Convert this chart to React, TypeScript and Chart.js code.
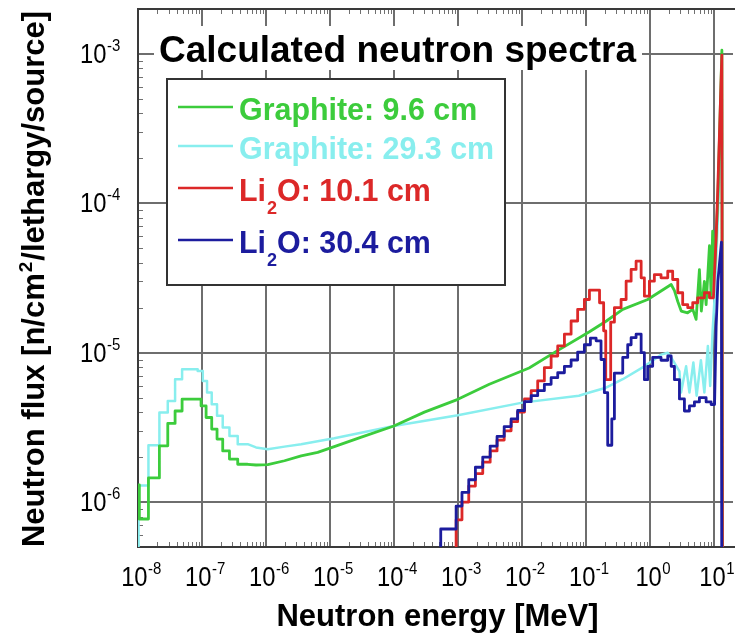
import React, { useEffect, useRef } from "react";
import { Chart, registerables } from "chart.js";

Chart.register(...registerables);

// Energies in MeV, flux in n/cm2/lethargy/source.
// "Bin" arrays are histogram groups (edges has one more entry than flux);
// "Curve" arrays continue the same series as a connected line.

// Graphite, 9.6 cm
const graphite96BinEdges = [8e-9, 1.05e-8, 1.456e-8, 2.16e-8, 2.92e-8, 3.8e-8, 4.89e-8, 9.68e-8, 1.16e-7, 1.42e-7, 1.72e-7, 2.11e-7, 2.69e-7, 3.62e-7, 5.19e-7];
const graphite96BinFlux = [1.3e-6, 7.7e-7, 1.45e-6, 2.38e-6, 3.36e-6, 4.07e-6, 4.88e-6, 4.4e-6, 3.68e-6, 3.08e-6, 2.64e-6, 2.2e-6, 1.94e-6, 1.79e-6];
const graphite96CurveE = [7e-7, 1.07e-6, 1.95e-6, 3.55e-6, 6.44e-6, 1.17e-5, 3.1e-5, 1e-4, 3e-4, 1e-3, 3.1e-3, 1.3e-2, 3.2e-2, 0.114, 0.21, 0.378, 0.929, 1.8, 2.16, 2.43, 2.74, 3.1, 3.9, 4.7, 5.3, 5.97, 6.4, 7.14, 7.6, 8.57, 9.1, 9.6, 10.3, 10.9, 11.6, 13.4, 13.9];
const graphite96CurveF = [1.77e-6, 1.78e-6, 1.89e-6, 2.04e-6, 2.15e-6, 2.35e-6, 2.72e-6, 3.23e-6, 4.0e-6, 4.87e-6, 6.15e-6, 7.9e-6, 1.0e-5, 1.38e-5, 1.63e-5, 1.95e-5, 2.27e-5, 2.72e-5, 2.86e-5, 2.6e-5, 2.2e-5, 1.9e-5, 1.85e-5, 1.95e-5, 1.67e-5, 3.6e-5, 1.9e-5, 3.0e-5, 2.1e-5, 5.2e-5, 2.4e-5, 6.5e-5, 3.5e-5, 6e-5, 1.1e-4, 1.06e-3, 1e-9];

// Graphite, 29.3 cm
const graphite293BinEdges = [5e-9, 1.02e-8, 1.456e-8, 2.16e-8, 2.92e-8, 3.8e-8, 4.89e-8, 8.57e-8, 1.03e-7, 1.2e-7, 1.42e-7, 1.72e-7, 2.11e-7, 2.69e-7, 3.62e-7, 5.19e-7];
const graphite293BinFlux = [1e-9, 1.29e-6, 2.4e-6, 3.97e-6, 4.75e-6, 6.64e-6, 7.74e-6, 7.55e-6, 6.47e-6, 5.41e-6, 4.52e-6, 3.78e-6, 3.16e-6, 2.77e-6, 2.44e-6];
const graphite293CurveE = [7e-7, 1.07e-6, 1.95e-6, 3.55e-6, 6.44e-6, 1.17e-5, 1e-4, 1e-3, 1.02e-2, 7.8e-2, 0.114, 0.2, 0.378, 0.824, 1.5, 1.91, 2.16, 2.91, 3.08, 3.7, 4.17, 4.8, 5.4, 6.3, 7.14, 8.1, 8.8, 9.6, 10.3, 10.9, 11.6, 13.4, 13.9];
const graphite293CurveF = [2.32e-6, 2.26e-6, 2.35e-6, 2.44e-6, 2.55e-6, 2.67e-6, 3.23e-6, 3.81e-6, 4.63e-6, 5.15e-6, 5.41e-6, 5.8e-6, 6.64e-6, 8.1e-6, 9.7e-6, 1.0e-5, 9.3e-6, 7.5e-6, 5.41e-6, 8.1e-6, 5.41e-6, 8.6e-6, 5.15e-6, 8.9e-6, 5.41e-6, 1.11e-5, 5.98e-6, 1.4e-5, 2.3e-5, 4e-5, 8e-5, 5e-4, 1e-9];

// Li2O, 10.1 cm
const li2o101BinEdges = [5e-4, 9.4e-4, 1.16e-3, 1.48e-3, 1.88e-3, 2.45e-3, 3.2e-3, 4.1e-3, 5.3e-3, 6.8e-3, 8.6e-3, 1.1e-2, 1.4e-2, 1.77e-2, 2.25e-2, 2.87e-2, 3.64e-2, 4.63e-2, 5.89e-2, 7.46e-2, 9.5e-2, 0.114, 0.164, 0.19, 0.205, 0.245, 0.28, 0.356, 0.427, 0.511, 0.611, 0.733, 0.824, 0.986, 1.18, 1.5, 1.91, 2.28, 2.74, 3.27, 3.92, 4.69, 5.61, 7.14, 8.57, 9.89];
const li2o101BinFlux = [1e-9, 7.6e-7, 1.0e-6, 1.28e-6, 1.55e-6, 1.85e-6, 2.2e-6, 2.6e-6, 3.0e-6, 3.45e-6, 4.0e-6, 4.9e-6, 5.57e-6, 6.47e-6, 7.94e-6, 9.5e-6, 1.11e-5, 1.33e-5, 1.63e-5, 1.95e-5, 2.27e-5, 2.62e-5, 2.16e-5, 1.4e-5, 6.6e-6, 1.6e-5, 2.0e-5, 2.27e-5, 3.01e-5, 3.61e-5, 4.1e-5, 3.17e-5, 2.39e-5, 3.01e-5, 3.33e-5, 3.17e-5, 3.51e-5, 3.09e-5, 2.52e-5, 2.1e-5, 2.0e-5, 2.16e-5, 2.33e-5, 2.52e-5, 2.33e-5];
const li2o101CurveE = [10.9, 11.6, 13.4, 13.9];
const li2o101CurveF = [6e-5, 1.3e-4, 9.8e-4, 1e-9];

// Li2O, 30.4 cm
const li2o304BinEdges = [3e-4, 5.4e-4, 9.4e-4, 1.16e-3, 1.48e-3, 1.88e-3, 2.45e-3, 3.2e-3, 4.1e-3, 5.3e-3, 6.8e-3, 8.6e-3, 1.1e-2, 1.4e-2, 1.77e-2, 2.25e-2, 2.87e-2, 3.64e-2, 4.63e-2, 5.89e-2, 7.46e-2, 9.5e-2, 0.118, 0.145, 0.173, 0.195, 0.22, 0.255, 0.28, 0.378, 0.452, 0.511, 0.611, 0.733, 0.824, 0.929, 1.11, 1.5, 1.91, 2.16, 2.43, 2.91, 3.48, 4.17, 4.99, 5.97, 7.6, 9.1, 10.3];
const li2o304BinFlux = [1e-9, 6.6e-7, 9.4e-7, 1.16e-6, 1.41e-6, 1.71e-6, 2.0e-6, 2.37e-6, 2.75e-6, 3.2e-6, 3.6e-6, 4.1e-6, 4.7e-6, 5.15e-6, 5.57e-6, 6.14e-6, 6.8e-6, 7.34e-6, 8.1e-6, 8.93e-6, 1.01e-5, 1.13e-5, 1.25e-5, 1.2e-5, 9.0e-6, 5.4e-6, 2.4e-6, 3.6e-6, 7.3e-6, 9.3e-6, 1.13e-5, 1.26e-5, 1.33e-5, 1.0e-5, 6.6e-6, 8.1e-6, 9.3e-6, 8.9e-6, 9.5e-6, 8.1e-6, 6.6e-6, 4.9e-6, 4.07e-6, 4.4e-6, 4.68e-6, 5.0e-6, 4.68e-6, 4.5e-6];
const li2o304CurveE = [10.9, 11.6, 13.2, 13.5];
const li2o304CurveF = [1.5e-5, 3e-5, 5.5e-5, 1e-9];

// Axis ranges and decade labels
const X_MIN = 1e-8;
const X_MAX = 20;
const Y_MIN = 5e-7;
const Y_MAX = 2e-3;
const X_TICK_EXPONENTS = [-8, -7, -6, -5, -4, -3, -2, -1, 0, 1];
const Y_TICK_EXPONENTS = [-6, -5, -4, -3];

const CHART_TITLE = "Calculated neutron spectra";
const X_TITLE = "Neutron energy [MeV]";
const Y_TITLE_PARTS = ["Neutron flux [n/cm", "2", "/lethargy/source]"];

type Seg = { text: string; sub?: boolean };
const LEGEND_LABELS: Seg[][] = [
  [{ text: "Graphite: 9.6 cm" }],
  [{ text: "Graphite: 29.3 cm" }],
  [{ text: "Li" }, { text: "2", sub: true }, { text: "O: 10.1 cm" }],
  [{ text: "Li" }, { text: "2", sub: true }, { text: "O: 30.4 cm" }],
];

const GREEN = "#3ccc3c";
const CYAN = "#88eeee";
const RED = "#dc2828";
const BLUE = "#1c1c9e";
const LEGEND_COLORS = [GREEN, CYAN, RED, BLUE];

const GRID = "#6e6e6e";
const BORDER = "#3a3a3a";
const INK = "#000000";
const FONT = '"Liberation Sans", Arial, Helvetica, sans-serif';

function histogramPoints(edges: number[], flux: number[], curveE: number[], curveF: number[]) {
  const pts: { x: number; y: number }[] = [];
  for (let i = 0; i < flux.length; i++) {
    pts.push({ x: edges[i], y: flux[i] });
    pts.push({ x: edges[i + 1], y: flux[i] });
  }
  for (let j = 0; j < curveE.length; j++) pts.push({ x: curveE[j], y: curveF[j] });
  return pts;
}

function textWidth(ctx: CanvasRenderingContext2D, text: string, font: string, sx = 1) {
  ctx.save();
  ctx.font = font;
  const w = ctx.measureText(text).width * sx;
  ctx.restore();
  return w;
}

function drawText(ctx: CanvasRenderingContext2D, text: string, x: number, y: number, font: string, color: string, sx = 1) {
  ctx.save();
  ctx.font = font;
  ctx.fillStyle = color;
  ctx.textBaseline = "alphabetic";
  ctx.textAlign = "left";
  ctx.translate(x, y);
  ctx.scale(sx, 1);
  ctx.fillText(text, 0, 0);
  const w = ctx.measureText(text).width * sx;
  ctx.restore();
  return w;
}

const decorations = {
  id: "decorations",
  beforeDatasetsDraw(chart: any) {
    const { ctx, chartArea: a, scales } = chart;
    const xs = scales.x;
    const ys = scales.y;
    const seg = (x1: number, y1: number, x2: number, y2: number) => {
      ctx.beginPath();
      ctx.moveTo(x1, y1);
      ctx.lineTo(x2, y2);
      ctx.stroke();
    };
    ctx.save();
    // decade grid
    ctx.strokeStyle = GRID;
    ctx.lineWidth = 2;
    for (const k of X_TICK_EXPONENTS) {
      const px = Math.round(xs.getPixelForValue(Math.pow(10, k)));
      if (px <= a.left + 2) continue;
      seg(px, a.top, px, a.bottom);
    }
    for (const k of Y_TICK_EXPONENTS) {
      const py = Math.round(ys.getPixelForValue(Math.pow(10, k)));
      seg(a.left, py, a.right, py);
    }
    // minor ticks
    ctx.strokeStyle = "#707070";
    ctx.lineWidth = 1;
    for (let k = -8; k <= 1; k++) {
      for (let m = 2; m <= 9; m++) {
        const v = m * Math.pow(10, k);
        if (v >= X_MAX) break;
        const px = Math.round(xs.getPixelForValue(v)) + 0.5;
        seg(px, a.bottom, px, a.bottom - 5);
        seg(px, a.top, px, a.top + 5);
      }
    }
    for (let k = -7; k <= -3; k++) {
      for (let m = 2; m <= 9; m++) {
        const v = m * Math.pow(10, k);
        if (v <= Y_MIN || v >= Y_MAX) continue;
        const py = Math.round(ys.getPixelForValue(v)) + 0.5;
        seg(a.left, py, a.left + 5, py);
      }
    }
    // frame
    ctx.strokeStyle = BORDER;
    ctx.lineWidth = 2;
    ctx.beginPath();
    ctx.moveTo(a.right + 2, a.top);
    ctx.lineTo(a.left, a.top);
    ctx.lineTo(a.left, a.bottom);
    ctx.lineTo(a.right + 2, a.bottom);
    ctx.stroke();
    ctx.restore();
  },
  afterDatasetsDraw(chart: any) {
    const { ctx, scales } = chart;
    const xs = scales.x;
    const ys = scales.y;
    ctx.save();

    // chart title on a white panel
    ctx.fillStyle = "#ffffff";
    ctx.fillRect(154, 26, 488, 44);
    drawText(ctx, CHART_TITLE, 159, 62, `bold 37px ${FONT}`, INK);

    // legend box
    ctx.fillStyle = "#ffffff";
    ctx.fillRect(167, 79, 338, 206);
    ctx.strokeStyle = "#333333";
    ctx.lineWidth = 2;
    ctx.strokeRect(167, 79, 338, 206);
    const rowY = [107, 146, 188, 240];
    LEGEND_LABELS.forEach((segs, i) => {
      const y = rowY[i];
      ctx.strokeStyle = LEGEND_COLORS[i];
      ctx.lineWidth = 2.5;
      ctx.beginPath();
      ctx.moveTo(178, y);
      ctx.lineTo(233, y);
      ctx.stroke();
      let x = 239;
      const base = y + 13;
      for (const s of segs) {
        if (s.sub) x += drawText(ctx, s.text, x + 1, base + 13, `bold 19px ${FONT}`, LEGEND_COLORS[i], 0.95) + 1;
        else x += drawText(ctx, s.text, x, base, `bold 32px ${FONT}`, LEGEND_COLORS[i], 0.95);
      }
    });

    // x tick labels: 10 with raised exponent
    const baseFont = `27px ${FONT}`;
    const expFont = `17px ${FONT}`;
    const sx = 0.88;
    for (const k of X_TICK_EXPONENTS) {
      const px = xs.getPixelForValue(Math.pow(10, k));
      const wb = textWidth(ctx, "10", baseFont, sx);
      const we = textWidth(ctx, String(k), expFont, sx);
      const left = px + 3 - (wb + we) / 2;
      drawText(ctx, "10", left, 586, baseFont, INK, sx);
      drawText(ctx, String(k), left + wb + 0.5, 574, expFont, INK, sx);
    }
    // y tick labels
    for (const k of Y_TICK_EXPONENTS) {
      const py = ys.getPixelForValue(Math.pow(10, k));
      const wb = drawText(ctx, "10", 80, py + 9, baseFont, INK, sx);
      drawText(ctx, String(k), 80 + wb + 0.5, py - 3, expFont, INK, sx);
    }

    // axis titles
    const titleFont = `bold 31px ${FONT}`;
    const supFont = `bold 19px ${FONT}`;
    const xw = textWidth(ctx, X_TITLE, titleFont);
    const a = chart.chartArea;
    drawText(ctx, X_TITLE, (a.left + a.right) / 2 + 2 - xw / 2, 626, titleFont, INK);

    ctx.save();
    ctx.translate(44, (a.top + a.bottom) / 2 + 1);
    ctx.rotate(-Math.PI / 2);
    const w0 = textWidth(ctx, Y_TITLE_PARTS[0], titleFont);
    const w1 = textWidth(ctx, Y_TITLE_PARTS[1], supFont);
    const w2 = textWidth(ctx, Y_TITLE_PARTS[2], titleFont);
    let tx = -(w0 + w1 + w2 + 2) / 2;
    tx += drawText(ctx, Y_TITLE_PARTS[0], tx, 0, titleFont, INK);
    tx += drawText(ctx, Y_TITLE_PARTS[1], tx + 1, -12, supFont, INK) + 2;
    drawText(ctx, Y_TITLE_PARTS[2], tx, 0, titleFont, INK);
    ctx.restore();

    ctx.restore();
  },
};

export default function App() {
  const ref = useRef<HTMLCanvasElement>(null);

  useEffect(() => {
    const canvas = ref.current;
    if (!canvas) return;
    const line = (label: string, color: string, width: number, data: { x: number; y: number }[]) => ({
      label,
      data,
      borderColor: color,
      backgroundColor: color,
      borderWidth: width,
      pointRadius: 0,
      tension: 0,
      fill: false,
      clip: 0,
      borderJoinStyle: "round" as const,
    });
    const chart = new Chart(canvas, {
      type: "line",
      data: {
        datasets: [
          line("Li2O: 30.4 cm", BLUE, 2.8, histogramPoints(li2o304BinEdges, li2o304BinFlux, li2o304CurveE, li2o304CurveF)),
          line("Li2O: 10.1 cm", RED, 2.8, histogramPoints(li2o101BinEdges, li2o101BinFlux, li2o101CurveE, li2o101CurveF)),
          line("Graphite: 9.6 cm", GREEN, 2.8, histogramPoints(graphite96BinEdges, graphite96BinFlux, graphite96CurveE, graphite96CurveF)),
          line("Graphite: 29.3 cm", CYAN, 2.5, histogramPoints(graphite293BinEdges, graphite293BinFlux, graphite293CurveE, graphite293CurveF)),
        ],
      },
      options: {
        responsive: false,
        devicePixelRatio: 1,
        animation: false,
        events: [],
        layout: { padding: { left: 0, right: 2, top: 9, bottom: 0 } },
        plugins: { legend: { display: false }, tooltip: { enabled: false }, title: { display: false } },
        scales: {
          x: {
            type: "logarithmic",
            min: X_MIN,
            max: X_MAX,
            grid: { display: false },
            border: { display: false },
            ticks: { display: false },
            afterFit: (s: any) => {
              s.height = 91;
            },
          },
          y: {
            type: "logarithmic",
            min: Y_MIN,
            max: Y_MAX,
            grid: { display: false },
            border: { display: false },
            ticks: { display: false },
            afterFit: (s: any) => {
              s.width = 138;
            },
          },
        },
      },
      plugins: [decorations],
    } as any);
    return () => chart.destroy();
  }, []);

  return (
    <div style={{ position: "fixed", left: 0, top: 0, width: 735, height: 638, background: "#ffffff" }}>
      <canvas ref={ref} width={735} height={638} style={{ display: "block" }} />
    </div>
  );
}
